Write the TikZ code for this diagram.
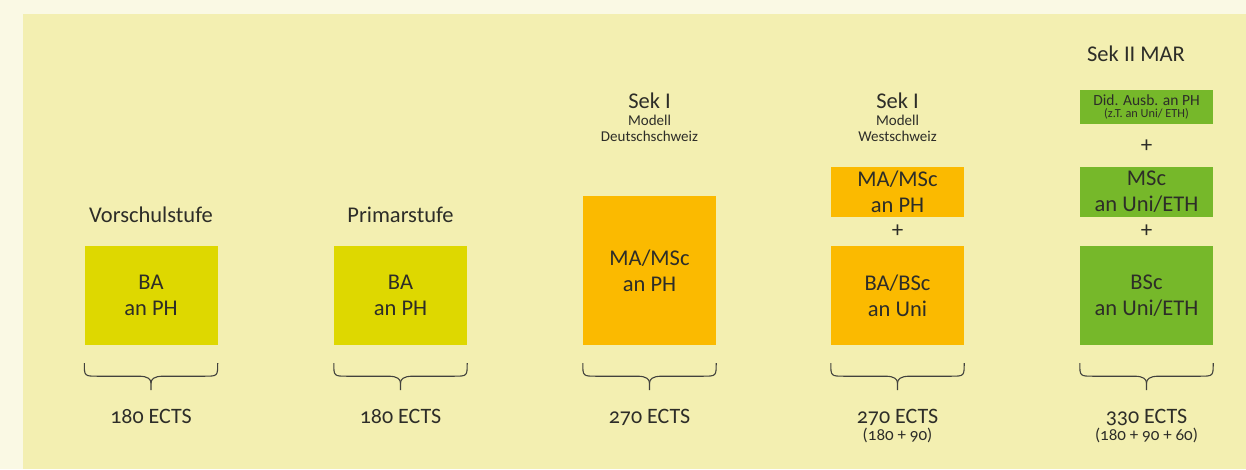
\documentclass[tikz,border=0pt]{standalone}
\usepackage{fontspec}
\setmainfont[Numbers=OldStyle]{Carlito}
\usetikzlibrary{calc}
\definecolor{outerbg}{RGB}{250,249,228}
\definecolor{panel}{RGB}{243,239,177}
\definecolor{ylw}{RGB}{222,216,0}
\definecolor{org}{RGB}{251,186,0}
\definecolor{grn}{RGB}{118,184,42}
\definecolor{txt}{RGB}{45,45,40}
\tikzset{
  blk/.style={inner sep=0pt, minimum width=133pt, align=center, text=txt,
     font=\fontsize{22.5}{26}\selectfont},
  ttl/.style={anchor=base, text=txt, font=\fontsize{22.5}{22}\selectfont},
  sub/.style={anchor=base, text=txt, font=\fontsize{15}{14}\selectfont},
  ects/.style={anchor=base, text=txt, font=\fontsize{22}{22}\selectfont},
  ectssub/.style={anchor=base, text=txt, font=\fontsize{17}{16}\selectfont},
  plus/.style={text=txt, font=\fontsize{23}{22}\selectfont, inner sep=0pt},
  brc/.style={draw=txt!90, line width=1.1pt},
}
\newcommand{\mybrace}[1]{%
  \draw[brc] ($(#1.south west)+(0,18)$) .. controls +(0,13) .. +(14,13)
     -- ($(#1.south)+(-12,13+18)$) .. controls +(9,0) and +(0,-4) .. ($(#1.south)+(0,38)$)
     -- ($(#1.south)+(0,45)$);
  \draw[brc] ($(#1.south east)+(0,18)$) .. controls +(0,13) .. +(-14,13)
     -- ($(#1.south)+(12,13+18)$) .. controls +(-9,0) and +(0,-4) .. ($(#1.south)+(0,38)$);
}
\begin{document}
\begin{tikzpicture}[x=1pt,y=-1pt]
\useasboundingbox (0,0) rectangle (1246,469);
\fill[outerbg] (0,0) rectangle (1246,469);
\fill[panel] (23,14) rectangle (1246,469);
% column 1
\node[blk, fill=ylw, minimum height=99pt] (b1) at (151,295.5) {BA\\an PH};
\node[ttl] (t1) at (151,222.5) {Vorschulstufe};
\mybrace{b1}
\node[ects] (e1) at (151,423) {180 ECTS};
% column 2
\node[blk, fill=ylw, minimum height=99pt] (b2) at (400.5,295.5) {BA\\an PH};
\node[ttl] (t2) at (400.5,222.5) {Primarstufe};
\mybrace{b2}
\node[ects] (e2) at (400.5,423) {180 ECTS};
% column 3
\node[blk, fill=org, minimum height=149pt] (b3) at (649.5,270.5) {MA/MSc\\an PH};
\node[ttl] (t3) at (649.5,108) {Sek I};
\node[sub] (m3) at (649.5,125.5) {Modell};
\node[sub] (d3) at (649.5,141.5) {Deutschschweiz};
\mybrace{b3}
\node[ects] (e3) at (649.5,423) {270 ECTS};
% column 4
\node[blk, fill=org, minimum height=50pt] (b4a) at (897.5,192) {MA/MSc\\an PH};
\node[plus] (p4) at (897.5,231.5) {+};
\node[blk, fill=org, minimum height=99pt] (b4) at (897.5,295.5) {BA/BSc\\an Uni};
\node[ttl] (t4) at (897.5,108) {Sek I};
\node[sub] (m4) at (897.5,125.5) {Modell};
\node[sub] (w4) at (897.5,141.5) {Westschweiz};
\mybrace{b4}
\node[ects] (e4) at (897.5,423) {270 ECTS};
\node[ectssub] (s4) at (897.5,440.5) {(180 + 90)};
% column 5
\node[blk, fill=grn, minimum height=34pt, font=\fontsize{15.5}{13}\selectfont] (b5c) at (1146.5,107)
  {Did. Ausb. an PH\\[-0.5pt]{\fontsize{12.3}{11}\selectfont (z.T. an Uni/ ETH)}};
\node[plus] (p5a) at (1146.5,146.5) {+};
\node[blk, fill=grn, minimum height=50pt] (b5b) at (1146.5,192) {MSc\\an Uni/ETH};
\node[plus] (p5b) at (1146.5,231.5) {+};
\node[blk, fill=grn, minimum height=99pt] (b5) at (1146.5,295.5) {BSc\\an Uni/ETH};
\node[ttl] (t5) at (1136,61.5) {Sek II MAR};
\mybrace{b5}
\node[ects] (e5) at (1146.5,423) {330 ECTS};
\node[ectssub] (s5) at (1146.5,440.5) {(180 + 90 + 60)};
\end{tikzpicture}
\end{document}
